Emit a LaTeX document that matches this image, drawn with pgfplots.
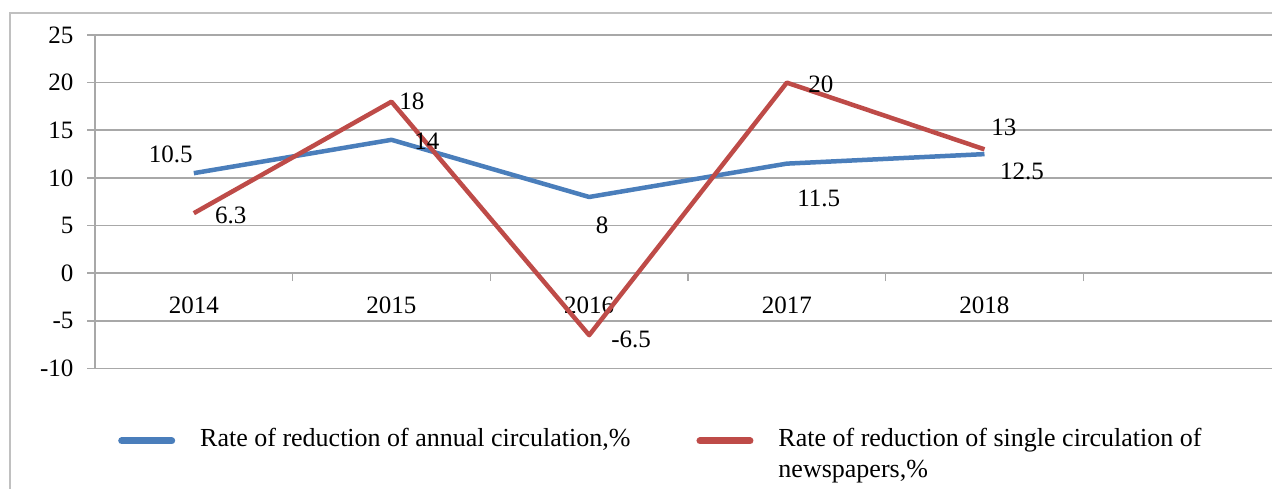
\documentclass[border=0pt]{standalone}
\usepackage{pgfplots}
\pgfplotsset{compat=1.18}
\usepackage{fontspec}
\setmainfont{Liberation Serif}

\definecolor{annual}{HTML}{4A7EBB}
\definecolor{single}{HTML}{BE4B48}
\definecolor{gridgray}{HTML}{A8A8A8}
\definecolor{framegray}{HTML}{C0C0C0}

\newcommand\tickfont{\fontsize{25}{30}\selectfont}
\newcommand\legfont{\fontsize{26}{31}\selectfont}

\begin{document}
\begin{tikzpicture}[x=1pt,y=1pt]
\useasboundingbox (0,0) rectangle (1272,488);
% chart area border
\draw[framegray, line width=1.8pt] (10,-30) rectangle (1320,475);
\begin{axis}[
  at={(95pt,119.5pt)}, anchor=south west,
  scale only axis, width=1186pt, height=333.5pt,
  xmin=-0.5, xmax=5.5, ymin=-10, ymax=25,
  clip=false,
  axis x line=middle, axis y line=left,
  axis line style={-, gridgray, line width=1.6pt},
  every inner x axis line/.append style={-},
  every outer y axis line/.append style={-},
  hide obscured x ticks=false,
  xtick={0,1,2,3,4},
  xticklabels={2014,2015,2016,2017,2018},
  minor xtick={0.5,1.5,2.5,3.5,4.5},
  ytick={-10,-5,0,5,10,15,20,25},
  tick align=outside,
  major tick length=8pt, minor tick length=8pt,
  major x tick style={draw=none},
  tick style={gridgray, line width=1.6pt},
  ymajorgrids,
  major grid style={gridgray, line width=1.6pt},
  /pgf/number format/assume math mode=true,
  yticklabel style={font=\tickfont, xshift=-10pt},
  xticklabel style={font=\tickfont, yshift=-12pt},
  legend columns=2,
  legend image code/.code={\draw[#1, line width=7pt, line cap=round] (0pt,6pt) -- (50pt,6pt);},
  legend style={at={(axis description cs:0.0194,-0.1694)}, anchor=north west,
    draw=none, fill=none, inner sep=0pt, font=\legfont,
    cells={anchor=base west},
    nodes={inner sep=0pt},
    /tikz/every odd column/.append style={column sep=25pt},
    /tikz/every even column/.append style={column sep=66pt}},
]
\addplot[annual, line width=4.5pt, line join=round, mark=none]
  coordinates {(0,10.5) (1,14) (2,8) (3,11.5) (4,12.5)};
\addlegendentry{Rate of reduction of annual circulation,\%}
\addplot[single, line width=4.5pt, line join=round, mark=none]
  coordinates {(0,6.3) (1,18) (2,-6.5) (3,20) (4,13)};
\addlegendentry{\begin{tabular}[t]{@{}l@{}}Rate of reduction of single circulation of\\newspapers,\%\end{tabular}}

% value labels
\node[font=\tickfont, xshift=-23pt, yshift=18.5pt] at (axis cs:0,10.5) {10.5};
\node[font=\tickfont, xshift=35.5pt, yshift=-1.7pt] at (axis cs:1,14) {14};
\node[font=\tickfont, xshift=13pt, yshift=-28.5pt] at (axis cs:2,8) {8};
\node[font=\tickfont, xshift=32pt, yshift=-34.5pt] at (axis cs:3,11.5) {11.5};
\node[font=\tickfont, xshift=37.5pt, yshift=-17pt] at (axis cs:4,12.5) {12.5};
\node[font=\tickfont, xshift=37pt, yshift=-2pt] at (axis cs:0,6.3) {6.3};
\node[font=\tickfont, xshift=20.5pt, yshift=0pt] at (axis cs:1,18) {18};
\node[font=\tickfont, xshift=42pt, yshift=-4pt] at (axis cs:2,-6.5) {-6.5};
\node[font=\tickfont, xshift=34pt, yshift=-1.5pt] at (axis cs:3,20) {20};
\node[font=\tickfont, xshift=19.5pt, yshift=22pt] at (axis cs:4,13) {13};
\end{axis}
\end{tikzpicture}
\end{document}
